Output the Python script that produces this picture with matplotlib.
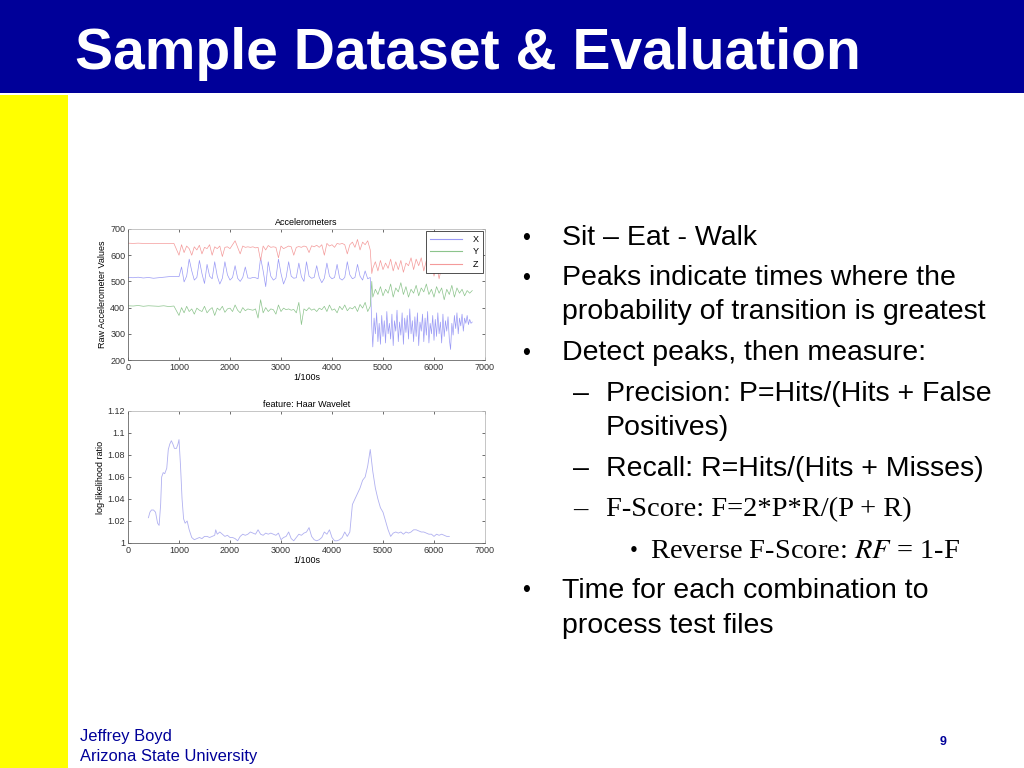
import matplotlib

matplotlib.use("Agg")
import matplotlib.pyplot as plt
from matplotlib.patches import Rectangle

# ---- accelerometer traces ----
x_flat = [0, 100, 200, 300, 400, 500, 600, 700, 800, 900]
x_active = list(range(1000, 4800, 50))
x_walk = [4780] + list(range(4800, 6800, 50))
x_walk_fine = [4780] + list(range(4800, 6775, 25))

acc_x_flat = [515, 514, 516, 513, 515, 512, 514, 516, 518, 519]
acc_x_active = [518, 555, 498, 520, 585, 540, 505, 515, 580, 530,
                492, 565, 520, 510, 575, 520, 490, 512, 575, 525,
                505, 515, 560, 512, 500, 515, 555, 513, 512, 515,
                514, 510, 590, 540, 480, 575, 520, 505, 512, 585,
                530, 490, 515, 575, 520, 512, 514, 570, 518, 500,
                575, 520, 512, 515, 560, 515, 495, 512, 570, 520,
                510, 515, 565, 512, 505, 515, 575, 525, 510, 515,
                565, 520, 505, 540, 510, 515]
acc_x_walk = [330,
              250, 360, 300, 380, 270, 340, 260, 370, 290, 350,
              265, 385, 300, 340, 280, 375, 255, 350, 310, 390,
              270, 345, 295, 380, 260, 360, 305, 370, 280, 395,
              300, 350, 270, 365, 290, 380, 255, 345, 310, 375,
              270, 360, 295, 385, 265, 340, 300, 370, 275, 355,
              290, 380, 300, 345, 265, 375, 290, 350, 310, 365,
              280, 240, 340, 295, 370, 320, 380, 300, 360, 330,
              375, 310, 360, 340, 370, 335, 355, 340, 345]

acc_y_flat = [407, 406, 408, 405, 407, 406, 405, 407, 404, 406]
acc_y_active = [370, 400, 380, 405, 385, 395, 375, 398, 390, 385,
                405, 380, 392, 400, 370, 398, 390, 405, 382, 395,
                398, 385, 410, 390, 380, 400, 388, 395, 392, 390,
                395, 360, 430, 380, 400, 385, 395, 392, 375, 410,
                385, 398, 392, 395, 390, 393, 380, 420, 335, 395,
                388, 400, 390, 395, 385, 398, 392, 405, 385, 410,
                390, 395, 380, 405, 392, 410, 388, 400, 395, 405,
                385, 412, 398, 420, 385, 405]
acc_y_walk = [500, 440, 470, 450, 480, 445, 470, 455, 490, 440, 475,
              460, 495, 450, 480, 440, 470, 455, 485, 445, 475,
              460, 490, 450, 470, 440, 480, 455, 475, 430, 470,
              450, 485, 440, 475, 455, 470, 445, 465, 455, 465]

acc_z_flat = [646, 645, 646, 645, 645, 644, 645, 645, 644, 645]
acc_z_active = [600, 640, 610, 635, 625, 600, 632, 620, 638, 605,
                630, 625, 640, 600, 632, 625, 635, 595, 630, 632,
                625, 640, 655, 630, 605, 635, 630, 632, 630, 632,
                628, 630, 580, 635, 620, 637, 630, 632, 630, 590,
                635, 625, 630, 635, 632, 600, 630, 633, 630, 635,
                632, 610, 636, 632, 638, 630, 640, 600, 645, 635,
                640, 630, 645, 642, 645, 640, 605, 640, 650, 630,
                660, 620, 650, 640, 655, 620]
acc_z_walk = [530, 550, 575, 540, 580, 545, 570, 550, 585, 540, 575,
              545, 580, 535, 570, 560, 590, 545, 585, 560, 590,
              540, 580, 560, 585, 520, 565, 510, 555, 540, 570,
              550, 575, 545, 570, 540, 565, 550, 560, 545, 555]

# ---- Haar wavelet feature ----
haar_t = [400, 430, 460, 500, 540, 580, 610, 640, 660, 690, 720, 760, 790,
          820, 850, 880, 910, 950, 980, 1000, 1030, 1060, 1090, 1120, 1160,
          1200, 1250, 1300, 1350, 1400, 1450, 1500, 1550, 1600, 1650, 1700,
          1720, 1750, 1800, 1850, 1900, 1950, 2000, 2050, 2100, 2150, 2200,
          2250, 2300, 2350, 2400, 2450, 2500, 2550, 2600, 2650, 2700, 2750,
          2800, 2850, 2900, 2950, 3000, 3050, 3100, 3150, 3200, 3250, 3300,
          3350, 3400, 3450, 3500, 3550, 3600, 3650, 3700, 3750, 3800, 3850,
          3900, 3950, 4000, 4050, 4100, 4150, 4200, 4250, 4300, 4350, 4400,
          4450, 4500, 4550, 4600, 4650, 4700, 4750, 4800, 4850, 4900, 4950,
          5000, 5050, 5100, 5150, 5200, 5250, 5300, 5350, 5400, 5450, 5500,
          5550, 5600, 5650, 5700, 5750, 5800, 5850, 5900, 5950, 6000, 6050,
          6100, 6150, 6200, 6250, 6300]
haar_llr = [1.023, 1.028, 1.030, 1.030, 1.028, 1.018, 1.016, 1.035, 1.060,
            1.064, 1.063, 1.068, 1.085, 1.090, 1.093, 1.090, 1.086, 1.086,
            1.090, 1.094, 1.070, 1.040, 1.022, 1.018, 1.020, 1.012, 1.005,
            1.003, 1.004, 1.005, 1.004, 1.006, 1.006, 1.005, 1.006, 1.007,
            1.012, 1.008, 1.010, 1.008, 1.006, 1.007, 1.005, 1.005, 1.004,
            1.002, 1.006, 1.008, 1.007, 1.008, 1.010, 1.009, 1.008, 1.012,
            1.008, 1.007, 1.009, 1.008, 1.009, 1.008, 1.007, 1.009, 1.003,
            1.005, 1.006, 1.010, 1.004, 1.002, 1.005, 1.008, 1.007, 1.009,
            1.010, 1.014, 1.006, 1.003, 1.002, 1.003, 1.005, 1.010, 1.008,
            1.012, 1.005, 1.002, 1.002, 1.003, 1.005, 1.010, 1.006, 1.010,
            1.035, 1.040, 1.045, 1.050, 1.057, 1.060, 1.070, 1.085, 1.065,
            1.050, 1.040, 1.032, 1.028, 1.020, 1.012, 1.006, 1.009, 1.010,
            1.009, 1.010, 1.008, 1.010, 1.009, 1.010, 1.012, 1.012, 1.011,
            1.010, 1.010, 1.009, 1.008, 1.008, 1.006, 1.008, 1.007, 1.008,
            1.007, 1.006, 1.006]

x_ticks = [0, 1000, 2000, 3000, 4000, 5000, 6000, 7000]
acc_yticks = [200, 300, 400, 500, 600, 700]
haar_yticks = [1.0, 1.02, 1.04, 1.06, 1.08, 1.1, 1.12]
haar_ylabels = ["1", "1.02", "1.04", "1.06", "1.08", "1.1", "1.12"]

NAVY = "#000099"
SANS = ["Liberation Sans", "DejaVu Sans"]
SERIF = ["Liberation Serif", "DejaVu Serif"]
plt.rcParams["font.family"] = SANS
plt.rcParams["mathtext.fontset"] = "stix"


def matlab_axes(ax):
    ax.tick_params(direction="in", length=2, width=0.5, labelsize=6.5,
                   top=True, right=True, pad=2, colors="#333333")
    for side in ("left", "bottom"):
        ax.spines[side].set_color("#666666")
        ax.spines[side].set_linewidth(0.6)
    for side in ("top", "right"):
        ax.spines[side].set_color("#bbbbbb")
        ax.spines[side].set_linewidth(0.6)


fig = plt.figure(figsize=(10.24, 7.68), dpi=100)
fig.patch.set_facecolor("white")

# slide decoration
fig.patches.append(Rectangle((0, 1 - 93 / 768), 1, 93 / 768, transform=fig.transFigure,
                             facecolor=NAVY, edgecolor="none", zorder=0))
fig.patches.append(Rectangle((0, 0), 68 / 1024, 1 - 95 / 768, transform=fig.transFigure,
                             facecolor="#ffff00", edgecolor="none", zorder=0))
fig.text(75 / 1024, 1 - 54 / 768, "Sample Dataset & Evaluation", color="white",
         fontsize=41, fontweight="bold", va="center", ha="left")

# accelerometer panel
ax1 = fig.add_axes([128 / 1024, 1 - 360 / 768, 357 / 1024, 131 / 768])
ax1.plot(x_flat + x_active + x_walk_fine, acc_x_flat + acc_x_active + acc_x_walk,
         color="#9a9af5", lw=0.5, label="X")
ax1.plot(x_flat + x_active + x_walk, acc_y_flat + acc_y_active + acc_y_walk,
         color="#8cc48c", lw=0.5, label="Y")
ax1.plot(x_flat + x_active + x_walk, acc_z_flat + acc_z_active + acc_z_walk,
         color="#f49a9a", lw=0.5, label="Z")
ax1.set_xlim(0, 7000)
ax1.set_ylim(200, 700)
ax1.set_xticks(x_ticks)
ax1.set_yticks(acc_yticks)
ax1.set_title("Accelerometers", fontsize=6.5, pad=3)
ax1.set_xlabel("1/100s", fontsize=6.5, labelpad=1)
ax1.set_ylabel("Raw Accelerometer Values", fontsize=6.5, labelpad=2)
matlab_axes(ax1)
leg = ax1.legend(loc="upper right", fontsize=6.5, handlelength=3.6, handletextpad=1.2,
                 borderpad=0.45, labelspacing=0.4, fancybox=False, framealpha=1,
                 borderaxespad=0.2)
leg.get_frame().set_edgecolor("#333333")
leg.get_frame().set_linewidth(0.6)
for line in leg.get_lines():
    line.set_linewidth(0.8)

# Haar wavelet panel
ax2 = fig.add_axes([128 / 1024, 1 - 543 / 768, 357 / 1024, 132 / 768])
ax2.plot(haar_t, haar_llr, color="#b0b0f0", lw=0.6)
ax2.set_xlim(0, 7000)
ax2.set_ylim(1.0, 1.12)
ax2.set_xticks(x_ticks)
ax2.set_yticks(haar_yticks)
ax2.set_yticklabels(haar_ylabels)
ax2.set_title("feature: Haar Wavelet", fontsize=6.5, pad=3)
ax2.set_xlabel("1/100s", fontsize=6.5, labelpad=1)
ax2.set_ylabel("log-likelihood ratio", fontsize=6.5, labelpad=2)
matlab_axes(ax2)

# bullet text
bullets = [
    (238, 522, 562, "•", "Sit – Eat - Walk", "sans"),
    (278, 522, 562, "•", "Peaks indicate times where the", "sans"),
    (312, None, 562, "", "probability of transition is greatest", "sans"),
    (353, 522, 562, "•", "Detect peaks, then measure:", "sans"),
    (394, 573, 606, "–", "Precision: P=Hits/(Hits + False", "sans"),
    (428, None, 606, "", "Positives)", "sans"),
    (469, 573, 606, "–", "Recall: R=Hits/(Hits + Misses)", "sans"),
    (510, 573, 606, "–", "F-Score: F=2*P*R/(P + R)", "serif"),
    (551, 630, 650, "•", "Reverse F-Score: $RF$ = 1-F", "serif"),
    (591, 522, 562, "•", "Time for each combination to", "sans"),
    (626, None, 562, "", "process test files", "sans"),
]
for y, bx, tx, mark, txt, fam in bullets:
    family = SANS if fam == "sans" else SERIF
    size = 20.5
    if bx is not None:
        fig.text(bx / 1024, 1 - y / 768, mark, fontsize=size * 0.8 if mark == "•" else size,
                 va="center", ha="left", family=family, color="black")
    fig.text(tx / 1024, 1 - y / 768, txt, fontsize=size, va="center", ha="left",
             family=family, color="black")

# footer
fig.text(80 / 1024, 1 - 736 / 768, "Jeffrey Boyd", fontsize=11.9, color=NAVY, va="center")
fig.text(80 / 1024, 1 - 757 / 768, "Arizona State University", fontsize=11.9, color=NAVY,
         va="center")
fig.text(943 / 1024, 1 - 742 / 768, "9", fontsize=9, fontweight="bold", color=NAVY,
         va="center", ha="center")

fig.savefig("out.png", dpi=100)
